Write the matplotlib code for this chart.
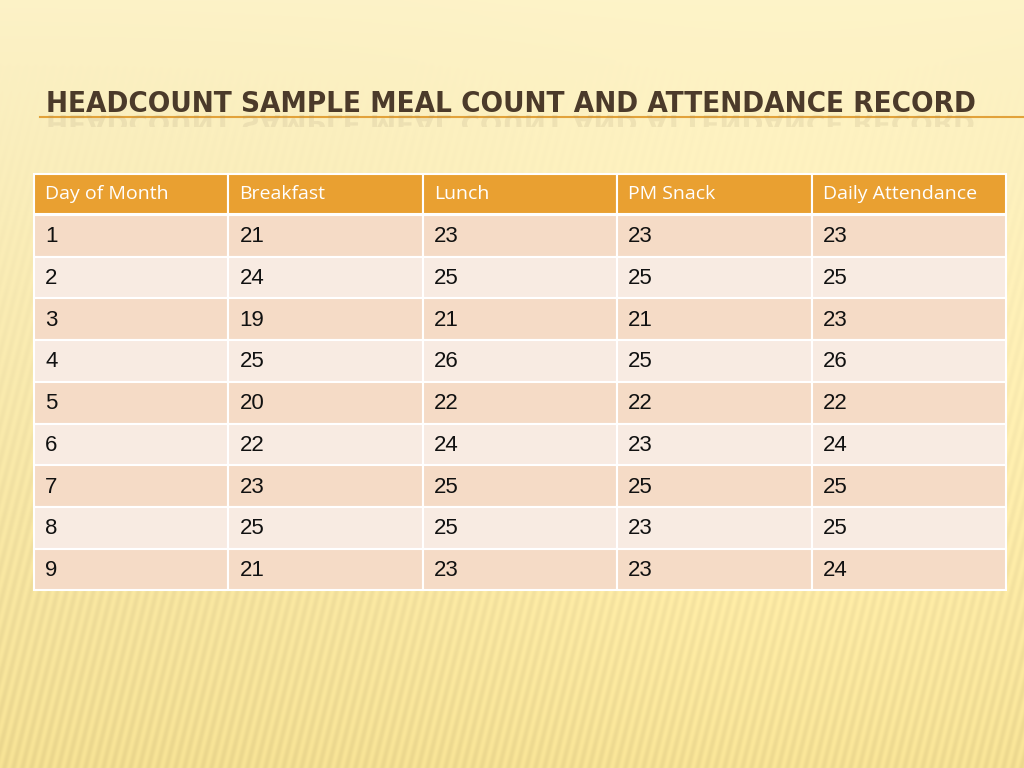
"""Headcount meal count slide recreated as a matplotlib table."""

import numpy as np
import matplotlib
matplotlib.use("Agg")
import matplotlib.pyplot as plt
from matplotlib.patches import Rectangle, PathPatch
from matplotlib.textpath import TextPath
from matplotlib.font_manager import FontProperties, findfont
from matplotlib.transforms import Affine2D

TITLE = "HEADCOUNT SAMPLE MEAL COUNT AND ATTENDANCE RECORD"
columns = ["Day of Month", "Breakfast", "Lunch", "PM Snack", "Daily Attendance"]
days = [1, 2, 3, 4, 5, 6, 7, 8, 9]
breakfast = [21, 24, 19, 25, 20, 22, 23, 25, 21]
lunch = [23, 25, 21, 26, 22, 24, 25, 25, 23]
pm_snack = [23, 25, 21, 25, 22, 23, 25, 23, 23]
attendance = [23, 25, 23, 26, 22, 24, 25, 25, 24]

# layout in pixels
W, H = 1024, 768
TABLE_LEFT, TABLE_RIGHT = 34, 1006
HEADER_TOP, HEADER_H = 174, 40
ROW_TOP, ROW_H = 215, 41.7
HEADER_COLOR = "#E9A031"
ROW_COLORS = ["#F5DBC6", "#F8EBE2"]
TITLE_X, TITLE_RIGHT, TITLE_BASE = 46, 972, 112

fig = plt.figure(figsize=(W / 100, H / 100), dpi=100)
ax = fig.add_axes([0, 0, 1, 1])
ax.set_xlim(0, W)
ax.set_ylim(H, 0)
ax.axis("off")

# background: pale yellow gradient with soft diagonal streaks
yy, xx = np.mgrid[0:H, 0:W]
t = yy / H
top = np.array([0.99, 0.95, 0.78])
bottom = np.array([0.92, 0.84, 0.55])
bg = top[None, None, :] * (1 - t[..., None]) + bottom[None, None, :] * t[..., None]
streak = 0.5 + 0.5 * np.sin((xx + 0.25 * yy) * 2 * np.pi / 9.0)
strength = np.clip((yy - 60) / 650, 0, 1) * 0.05
bg = bg + (streak * strength)[..., None] * np.array([1.0, 1.0, 0.7])
glow = np.exp(-(((xx - 780) / 380) ** 2 + ((yy - 430) / 320) ** 2)) * 0.035
bg = np.clip(bg + glow[..., None], 0, 1)
ax.imshow(bg, extent=(0, W, H, 0), zorder=0, aspect="auto")

# title: condensed bold, fitted to the reference width
title_font = FontProperties(family="DejaVu Sans", stretch="condensed", weight="bold")
ax.plot([40, W], [117, 117], color="#E2A23A", linewidth=1.5, zorder=2)
title = ax.text(TITLE_X, TITLE_BASE, TITLE, fontproperties=title_font, fontsize=22,
                color="#4B3A2A", va="baseline", ha="left", zorder=4)
fig.canvas.draw()
bb = title.get_window_extent()
size = 22 * (TITLE_RIGHT - TITLE_X) / bb.width
title.set_fontsize(size)

# faint mirrored reflection under the title
tp = TextPath((0, 0), TITLE, size=size * 100 / 72, prop=title_font)
refl = PathPatch(Affine2D().scale(1, 0.8).translate(TITLE_X, TITLE_BASE + 3).transform_path(tp),
                 facecolor="#9A8A6A", edgecolor="none", alpha=0.14, zorder=3)
ax.add_patch(refl)
refl.set_clip_path(Rectangle((0, TITLE_BASE + 3), W, 12, transform=ax.transData))

# table
col_w = (TABLE_RIGHT - TABLE_LEFT) / len(columns)
body_font = ["Liberation Sans", "DejaVu Sans"]
head_font = ["Open Sans", "DejaVu Sans"]
values = list(zip(days, breakfast, lunch, pm_snack, attendance))

for j, name in enumerate(columns):
    x0 = TABLE_LEFT + j * col_w
    ax.add_patch(Rectangle((x0, HEADER_TOP), col_w, HEADER_H, facecolor=HEADER_COLOR,
                           edgecolor="white", linewidth=1.5, zorder=5))
    ax.text(x0 + 11, HEADER_TOP + HEADER_H / 2, name, color="white", fontsize=14,
            family=head_font, va="center", ha="left", zorder=6)

for i, row in enumerate(values):
    y0 = ROW_TOP + i * ROW_H
    for j, val in enumerate(row):
        x0 = TABLE_LEFT + j * col_w
        ax.add_patch(Rectangle((x0, y0), col_w, ROW_H, facecolor=ROW_COLORS[i % 2],
                               edgecolor="white", linewidth=1.5, zorder=5))
        ax.text(x0 + 11, y0 + ROW_H / 2 + 1, str(val), color="#111111", fontsize=16,
                family=body_font, va="center", ha="left", zorder=6)

fig.savefig("out.png", dpi=100)
plt.close(fig)
